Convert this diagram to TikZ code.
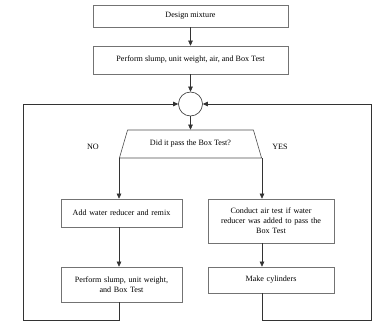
\documentclass[tikz,border=0pt]{standalone}
\usepackage{fontspec}
\setmainfont{Liberation Serif}
\usetikzlibrary{arrows.meta,positioning,shapes.geometric,calc}

\begin{document}
\begin{tikzpicture}[x=1pt,y=-1pt,
  n/.style={draw=black!55,line width=0.6pt,align=center,font=\fontsize{8.1}{10}\selectfont,
            inner sep=1pt},
  dec/.style={draw=black!70,line width=0.6pt,trapezium,trapezium stretches=true,
            minimum width=143pt,minimum height=28pt,inner sep=1pt,
            font=\fontsize{8.1}{10}\selectfont},
  lab/.style={font=\fontsize{8.1}{10}\selectfont},
  arr/.style={-{Triangle[length=5pt,width=4.5pt]},draw=black!80,line width=0.6pt}]
\useasboundingbox (0,0) rectangle (373,321);
\node[n,minimum width=195pt,minimum height=22pt] (design) at (190.5,16) {Design mixture};
\node[n,minimum width=195pt,minimum height=28pt] (perf1) at (190.5,60)
   {Perform slump, unit weight, air, and Box Test};
\node[draw=black!80,line width=0.6pt,circle,minimum size=24pt,inner sep=0pt] (join) at (190.5,104) {};
\node[dec] (test) at (190.5,144) {Did it pass the Box Test?};
\node[lab] (no) at (93,147) {NO};
\node[lab] (yes) at (280,147) {YES};
\node[n,text width=119pt,minimum height=28pt] (add) at (121.5,213) {Add water reducer and remix};
\node[n,text width=119pt,minimum height=35pt] (perf2) at (121.5,284.5)
   {Perform slump, unit weight,\\ and Box Test};
\node[n,text width=124pt,minimum height=44pt] (conduct) at (271,221)
   {Conduct air test if water\\ reducer was added to pass the\\ Box Test};
\node[n,text width=124pt,minimum height=26pt] (make) at (271,280) {Make cylinders};
\coordinate (lb) at (23,320);
\coordinate (rb) at (371,320);
\draw[arr] (design) -- (perf1);
\draw[arr] (perf1) -- (join);
\draw[arr] (join) -- (test);
\draw[arr] (test.bottom left corner) -- (test.bottom left corner |- add.north);
\draw[arr] (test.bottom right corner) -- (test.bottom right corner |- conduct.north);
\draw[arr] (add.south -| test.bottom left corner) -- (perf2.north -| test.bottom left corner);
\draw[arr] (conduct.south -| test.bottom right corner) -- (make.north -| test.bottom right corner);
\draw[arr] (perf2.south -| test.bottom left corner) |- (lb) |- (join.west);
\draw[arr] (make.south -| test.bottom right corner) |- (rb) |- (join.east);
\end{tikzpicture}
\end{document}
